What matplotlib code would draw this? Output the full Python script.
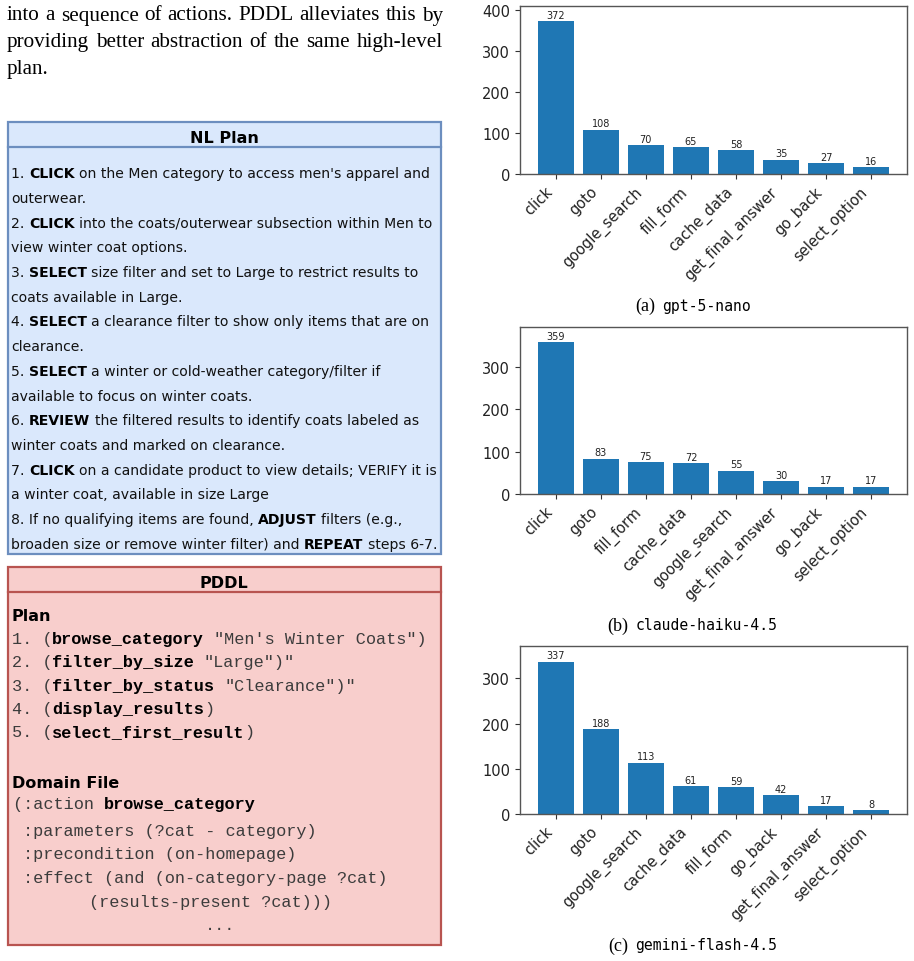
import matplotlib
matplotlib.use("Agg")
import matplotlib.pyplot as plt
from matplotlib.font_manager import FontProperties
from matplotlib.patches import Rectangle

# ---------------- data ----------------
cats_a = ["click", "goto", "google_search", "fill_form", "cache_data",
          "get_final_answer", "go_back", "select_option"]
vals_a = [372, 108, 70, 65, 58, 35, 27, 16]

cats_b = ["click", "goto", "fill_form", "cache_data", "google_search",
          "get_final_answer", "go_back", "select_option"]
vals_b = [359, 83, 75, 72, 55, 30, 17, 17]

cats_c = ["click", "goto", "google_search", "cache_data", "fill_form",
          "go_back", "get_final_answer", "select_option"]
vals_c = [337, 188, 113, 61, 59, 42, 17, 8]

caption_letters = ["(a)", "(b)", "(c)"]
caption_models = ["gpt-5-nano", "claude-haiku-4.5", "gemini-flash-4.5"]

intro_lines = ["into a sequence of actions. PDDL alleviates this by",
               "providing better abstraction of the same high-level",
               "plan."]

nl_lines = [
    [("1. ", 0), ("CLICK", 1), (" on the Men category to access men's apparel and", 0)],
    [("outerwear.", 0)],
    [("2. ", 0), ("CLICK", 1), (" into the coats/outerwear subsection within Men to", 0)],
    [("view winter coat options.", 0)],
    [("3. ", 0), ("SELECT", 1), (" size filter and set to Large to restrict results to", 0)],
    [("coats available in Large.", 0)],
    [("4. ", 0), ("SELECT", 1), (" a clearance filter to show only items that are on", 0)],
    [("clearance.", 0)],
    [("5. ", 0), ("SELECT", 1), (" a winter or cold-weather category/filter if", 0)],
    [("available to focus on winter coats.", 0)],
    [("6. ", 0), ("REVIEW", 1), (" the filtered results to identify coats labeled as", 0)],
    [("winter coats and marked on clearance.", 0)],
    [("7. ", 0), ("CLICK", 1), (" on a candidate product to view details; VERIFY it is", 0)],
    [("a winter coat, available in size Large", 0)],
    [("8. If no qualifying items are found, ", 0), ("ADJUST", 1), (" filters (e.g.,", 0)],
    [("broaden size or remove winter filter) and ", 0), ("REPEAT", 1), (" steps 6-7.", 0)],
]

pddl_plan = [
    [("1. (", 0), ("browse_category", 1), (" \"Men's Winter Coats\")", 0)],
    [("2. (", 0), ("filter_by_size", 1), (" \"Large\")\"", 0)],
    [("3. (", 0), ("filter_by_status", 1), (" \"Clearance\")\"", 0)],
    [("4. (", 0), ("display_results", 1), (")", 0)],
    [("5. (", 0), ("select_first_result", 1), (")", 0)],
]
pddl_domain = [
    [("(:action ", 0), ("browse_category", 1)],
    [(" :parameters (?cat - category)", 0)],
    [(" :precondition (on-homepage)", 0)],
    [(" :effect (and (on-category-page ?cat)", 0)],
]
pddl_domain_tail = "(results-present ?cat)))"

# ---------------- figure ----------------
W, H = 914, 962
fig = plt.figure(figsize=(W / 100, H / 100), dpi=100)
bg = fig.add_axes([0, 0, 1, 1])
bg.set_xlim(0, W)
bg.set_ylim(H, 0)
bg.axis("off")
bg.patch.set_visible(False)
renderer = fig.canvas.get_renderer()

SANS = "DejaVu Sans"
SERIF = "Liberation Serif"
MONO = "Liberation Mono"
CAPMONO = "DejaVu Sans Mono"


def fp(family, size, bold=False):
    return FontProperties(family=family, size=size, weight="bold" if bold else "normal")


def tw(s, prop):
    if s == "":
        return 0.0
    w1, _, _ = renderer.get_text_width_height_descent("|" + s + "|", prop, ismath=False)
    w2, _, _ = renderer.get_text_width_height_descent("||", prop, ismath=False)
    return w1 - w2


def rich(x, y, segs, family, size, colors=("black", "black")):
    for s, b in segs:
        prop = fp(family, size, b)
        stripped = s.lstrip(" ")
        x += tw(s[: len(s) - len(stripped)], prop)
        bg.text(x, y, stripped, fontproperties=prop, va="baseline", ha="left",
                color=colors[b])
        x += tw(stripped, prop)
    return x


# ---- intro paragraph (justified) ----
serif_size = 15 * 434 / tw(intro_lines[0], fp(SERIF, 15))
serif_fp = fp(SERIF, serif_size)
intro_base = [20.5, 47.2, 74.0]
for i, line in enumerate(intro_lines):
    words = line.split(" ")
    if i < len(intro_lines) - 1:
        widths = [tw(w, serif_fp) for w in words]
        gap = (443 - 7 - sum(widths)) / (len(words) - 1)
        x = 7
        for w, wd in zip(words, widths):
            bg.text(x, intro_base[i], w, fontproperties=serif_fp, va="baseline",
                    ha="left", color="black")
            x += wd + gap
    else:
        bg.text(7, intro_base[i], line, fontproperties=serif_fp, va="baseline",
                ha="left", color="black")

# ---- NL Plan box ----
blue_fill, blue_edge = "#dae8fc", "#6c8ebf"
bg.add_patch(Rectangle((7.5, 122.5), 433, 432.5, facecolor=blue_fill,
                       edgecolor=blue_edge, lw=1.6))
bg.plot([7.5, 440.5], [148.3, 148.3], color=blue_edge, lw=1.6)
bg.text(224, 143.3, "NL Plan", fontproperties=fp(SANS, 11.5, True), ha="center",
        va="baseline", color="black")

# fit body font size to the longest line width
ref_segs = nl_lines[12]
w10 = sum(tw(s, fp(SANS, 10, b)) for s, b in ref_segs)
nl_size = 10 * 424 / w10
for i, segs in enumerate(nl_lines):
    rich(11.0, 178.3 + 24.7 * i, segs, SANS, nl_size, colors=("#111111", "black"))

# ---- PDDL box ----
red_fill, red_edge = "#f8cecc", "#b85450"
bg.add_patch(Rectangle((7.5, 567.5), 433, 378.5, facecolor=red_fill,
                       edgecolor=red_edge, lw=1.6))
bg.plot([7.5, 440.5], [593.3, 593.3], color=red_edge, lw=1.6)
bg.text(224, 588.3, "PDDL", fontproperties=fp(SANS, 11.5, True), ha="center",
        va="baseline", color="black")
bg.text(11.5, 621, "Plan", fontproperties=fp(SANS, 11.5, True), ha="left",
        va="baseline", color="black")
bg.text(11.5, 787.7, "Domain File", fontproperties=fp(SANS, 11.5, True), ha="left",
        va="baseline", color="black")

mono_size = 10 * 101.5 / tw("0" * 10, fp(MONO, 10))
mono_cols = ("#3c3c3c", "black")
for i, segs in enumerate(pddl_plan):
    rich(11.5, 644 + 23.3 * i, segs, MONO, mono_size, colors=mono_cols)
dom_base = [809.3, 836.0, 859.5, 883.3]
for segs, yb in zip(pddl_domain, dom_base):
    rich(13.0, yb, segs, MONO, mono_size, colors=mono_cols)
bg.text(89.0, 907.5, pddl_domain_tail, fontproperties=fp(MONO, mono_size),
        ha="left", va="baseline", color=mono_cols[0])
bg.text(220.0, 930.0, "...", fontproperties=fp(MONO, mono_size), ha="center",
        va="baseline", color=mono_cols[0])

# ---- bar charts ----
panels = [
    (cats_a, vals_a, 7.0, 175.0, 311.0, 655.0),
    (cats_b, vals_b, 327.7, 495.0, 630.5, 628.5),
    (cats_c, vals_c, 647.3, 815.0, 950.5, 628.5),
]
for k, (cats, vals, top, bot, cap_y, cap_x) in enumerate(panels):
    ax = fig.add_axes([520 / W, 1 - bot / H, 387 / W, (bot - top) / H])
    bars = ax.bar(cats, vals, color="#1f77b4", width=0.8)
    ax.bar_label(bars, fontsize=7, padding=1, color="#222222")
    ax.set_ylim(0, max(vals) * 1.1)
    ax.tick_params(labelsize=10.5, color="#333333", labelcolor="#222222")
    for lab in ax.get_xticklabels():
        lab.set_rotation(45)
        lab.set_ha("right")
    for sp in ax.spines.values():
        sp.set_color("#555555")
        sp.set_linewidth(1.0)
    bg.text(cap_x, cap_y, caption_letters[k], fontproperties=fp(SERIF, 13),
            ha="right", va="baseline", color="black")
    bg.text(cap_x + 7, cap_y, caption_models[k], fontproperties=fp(CAPMONO, 10.6),
            ha="left", va="baseline", color="black")

fig.savefig("out.png", dpi=100)
